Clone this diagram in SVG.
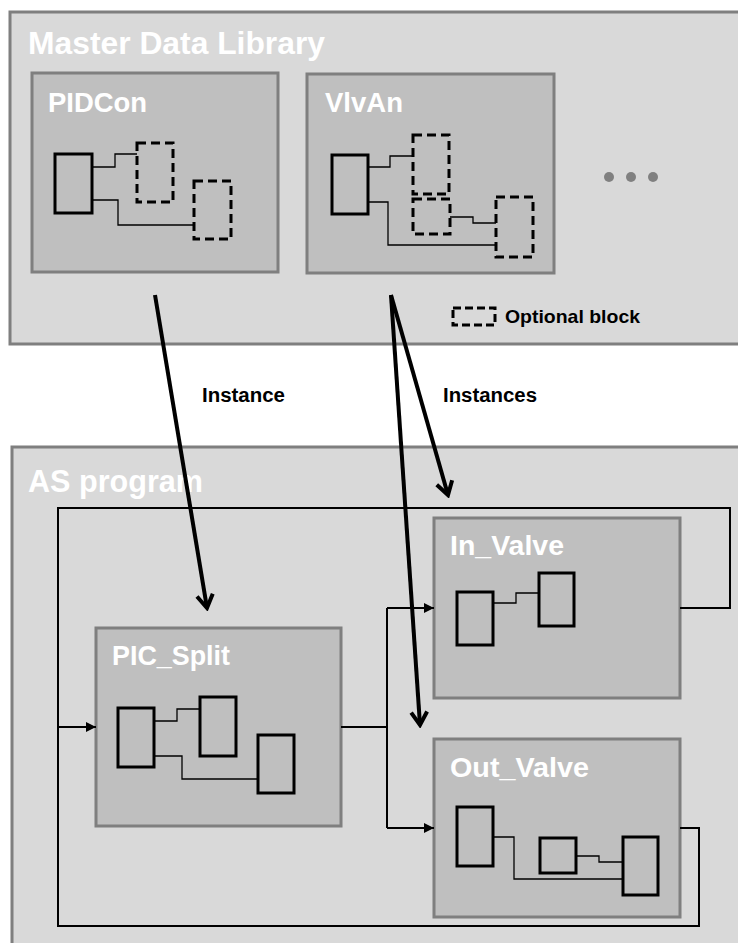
<svg xmlns="http://www.w3.org/2000/svg" width="738" height="943" viewBox="0 0 738 943">
<style>
.panel{fill:#d9d9d9;stroke:#7f7f7f;stroke-width:3}
.node{fill:#bfbfbf;stroke:#7f7f7f;stroke-width:3}
.blk{fill:#bfbfbf;stroke:#000;stroke-width:3}
.opt{fill:#bfbfbf;stroke:#000;stroke-width:3;stroke-dasharray:9,5}
.wire{fill:none;stroke:#000;stroke-width:1.3}
.title{font-family:"Liberation Sans",Arial,sans-serif;font-weight:bold;fill:#fff}
.lbl{font-family:"Liberation Sans",Arial,sans-serif;font-weight:bold;fill:#000}
.flow{fill:none;stroke:#000;stroke-width:2}
.big{fill:none;stroke:#000;stroke-width:4}
</style>
<defs>
<marker id="tri" viewBox="0 0 10 10" refX="10" refY="5" markerWidth="10" markerHeight="10" markerUnits="userSpaceOnUse" orient="auto">
<path d="M0,0 L10,5 L0,10 Z" fill="#000"/>
</marker>
<marker id="chev" viewBox="0 0 20 20" refX="17" refY="10" markerWidth="20" markerHeight="20" markerUnits="userSpaceOnUse" orient="auto">
<path d="M4,2 L17,10 L4,18" fill="none" stroke="#000" stroke-width="4"/>
</marker>
</defs>

<g id="master-library">
<rect class="panel" x="10" y="12" width="740" height="332"/>
<text class="title" x="28" y="54" font-size="32" textLength="297" lengthAdjust="spacingAndGlyphs">Master Data Library</text>
</g>

<g id="PIDCon">
<rect class="node" x="32" y="73" width="246" height="199"/>
<text class="title" x="48" y="112" font-size="28" textLength="99" lengthAdjust="spacingAndGlyphs">PIDCon</text>
<path class="wire" d="M92,167 H115 V154 H137 M92,200 H118 V225 H194"/>
<rect class="blk" x="55" y="154" width="37" height="59"/>
<rect class="opt" x="137" y="143" width="36" height="59"/>
<rect class="opt" x="194" y="181" width="37" height="58"/>
</g>

<g id="VlvAn">
<rect class="node" x="307" y="74" width="247" height="199"/>
<text class="title" x="325" y="112" font-size="28" textLength="78" lengthAdjust="spacingAndGlyphs">VlvAn</text>
<path class="wire" d="M368,167 H390 V156 H413 M368,202 H388 V245 H496 M450,217 H473 V223 H496"/>
<rect class="blk" x="332" y="155" width="36" height="59"/>
<rect class="opt" x="413" y="135" width="36" height="59"/>
<rect class="opt" x="413" y="199" width="37" height="35"/>
<rect class="opt" x="496" y="197" width="37" height="60"/>
</g>

<g id="more">
<circle cx="609" cy="177" r="5" fill="#808080"/>
<circle cx="631" cy="177" r="5" fill="#808080"/>
<circle cx="653" cy="177" r="5" fill="#808080"/>
</g>

<g id="legend">
<rect x="453" y="308" width="42" height="17" fill="none" stroke="#000" stroke-width="3" stroke-dasharray="8,4"/>
<text class="lbl" x="505" y="323" font-size="19" textLength="135" lengthAdjust="spacingAndGlyphs">Optional block</text>
</g>

<g id="as-program">
<rect class="panel" x="12" y="447" width="740" height="510"/>
<text class="title" x="28" y="492" font-size="31" textLength="175" lengthAdjust="spacingAndGlyphs">AS program</text>
</g>

<g id="PIC_Split">
<rect class="node" x="96" y="628" width="245" height="198"/>
<text class="title" x="112" y="665" font-size="28" textLength="118" lengthAdjust="spacingAndGlyphs">PIC_Split</text>
<path class="wire" d="M154,721 H177 V709 H200 M154,756 H182 V779 H258"/>
<rect class="blk" x="118" y="708" width="36" height="59"/>
<rect class="blk" x="200" y="697" width="36" height="59"/>
<rect class="blk" x="258" y="735" width="36" height="58"/>
</g>

<g id="In_Valve">
<rect class="node" x="434" y="518" width="246" height="180"/>
<text class="title" x="450" y="555" font-size="28" textLength="114" lengthAdjust="spacingAndGlyphs">In_Valve</text>
<path class="wire" d="M493,603 H516 V593 H539"/>
<rect class="blk" x="457" y="592" width="36" height="53"/>
<rect class="blk" x="539" y="573" width="35" height="53"/>
</g>

<g id="Out_Valve">
<rect class="node" x="434" y="739" width="246" height="178"/>
<text class="title" x="450" y="777" font-size="28" textLength="139" lengthAdjust="spacingAndGlyphs">Out_Valve</text>
<path class="wire" d="M493,837 H514 V879 H623 M576,856 H599 V862 H623"/>
<rect class="blk" x="457" y="807" width="36" height="59"/>
<rect class="blk" x="540" y="838" width="36" height="35"/>
<rect class="blk" x="623" y="837" width="35" height="58"/>
</g>

<g id="connectors">
<path class="flow" d="M680,608 H730 V508 H58 V926 H699 V828 H680"/>
<path class="flow" d="M58,727 H96" marker-end="url(#tri)"/>
<path class="flow" d="M341,727 H387 M387,608 V828"/>
<path class="flow" d="M387,608 H434" marker-end="url(#tri)"/>
<path class="flow" d="M387,828 H434" marker-end="url(#tri)"/>
<path class="big" d="M155,295 L207,608" marker-end="url(#chev)"/>
<path class="big" d="M391,295 L448,495" marker-end="url(#chev)"/>
<path class="big" d="M391,295 L420,725" marker-end="url(#chev)"/>
<text class="lbl" x="202" y="402" font-size="20" textLength="83" lengthAdjust="spacingAndGlyphs">Instance</text>
<text class="lbl" x="443" y="402" font-size="20" textLength="94" lengthAdjust="spacingAndGlyphs">Instances</text>
</g>
</svg>
